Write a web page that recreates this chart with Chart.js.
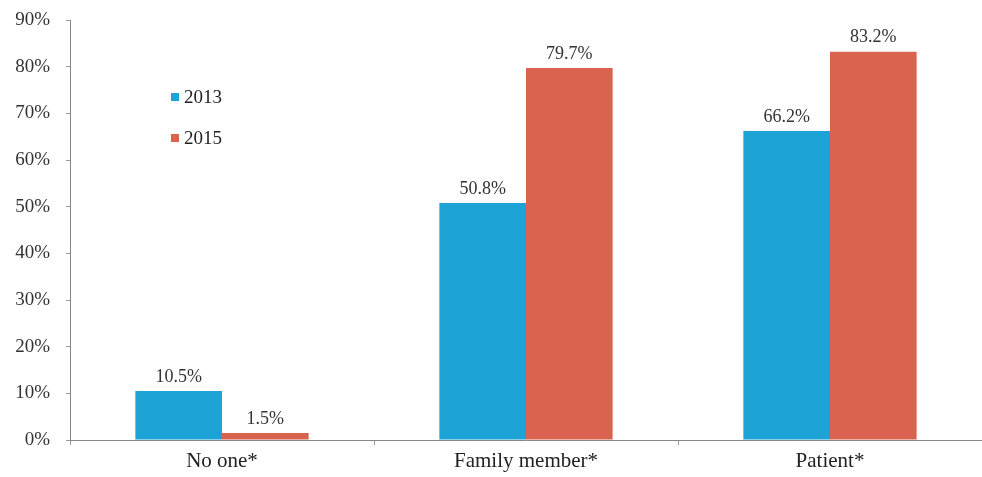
<!DOCTYPE html>
<html>
<head>
<meta charset="utf-8">
<script src="https://cdn.jsdelivr.net/npm/chart.js@4/dist/chart.umd.min.js"></script>
<style>
  html, body { margin: 0; padding: 0; background: #fff; overflow: hidden; }
  #wrap { width: 982px; height: 477px; }
</style>
</head>
<body>
<div id="wrap"><canvas id="barChart" width="982" height="477"></canvas></div>
<script>
const categories = ['No one*', 'Family member*', 'Patient*'];
const years = ['2013', '2015'];
const values2013 = [10.5, 50.8, 66.2];
const values2015 = [1.5, 79.7, 83.2];
const yTicks = [0, 10, 20, 30, 40, 50, 60, 70, 80, 90];

const blue = '#1ea3d6';
const red = '#da6350';
const serif = "'Liberation Serif', 'Times New Roman', serif";

// value labels over each bar
const barLabels = {
  id: 'barLabels',
  afterDatasetsDraw(chart) {
    const ctx = chart.ctx;
    ctx.save();
    ctx.font = '18px ' + serif;
    ctx.fillStyle = '#333';
    ctx.textAlign = 'center';
    ctx.textBaseline = 'bottom';
    chart.data.datasets.forEach((ds, i) => {
      chart.getDatasetMeta(i).data.forEach((bar, j) => {
        ctx.fillText(ds.data[j].toFixed(1) + '%', bar.x, bar.y - 5);
      });
    });
    ctx.restore();
  }
};

// legend inside the plot, top left
const insideLegend = {
  id: 'insideLegend',
  afterDraw(chart) {
    const ctx = chart.ctx;
    ctx.save();
    ctx.font = '19px ' + serif;
    ctx.textBaseline = 'middle';
    chart.data.datasets.forEach((ds, i) => {
      const y = 97 + i * 41;
      ctx.fillStyle = ds.backgroundColor;
      ctx.fillRect(171, y - 4, 8, 8);
      ctx.fillStyle = '#222';
      ctx.fillText(ds.label, 184, y + 1);
    });
    ctx.restore();
  }
};

new Chart(document.getElementById('barChart').getContext('2d'), {
  type: 'bar',
  data: {
    labels: categories,
    datasets: [
      { label: years[0], data: values2013, backgroundColor: blue },
      { label: years[1], data: values2015, backgroundColor: red }
    ]
  },
  options: {
    responsive: false,
    animation: false,
    layout: { padding: { top: 20, right: 0, left: 0, bottom: 0 } },
    datasets: { bar: { categoryPercentage: 0.57, barPercentage: 1.0 } },
    plugins: {
      legend: { display: false },
      tooltip: { enabled: false }
    },
    scales: {
      x: {
        grid: { display: true, drawOnChartArea: false, offset: true, tickLength: 5, color: '#999' },
        border: { display: true, color: '#888', width: 1 },
        ticks: { color: '#222', font: { family: serif, size: 21 }, padding: 4 },
        afterFit(scale) { scale.height = 37; }
      },
      y: {
        min: 0,
        max: 90,
        afterBuildTicks(scale) { scale.ticks = yTicks.map(v => ({ value: v })); },
        grid: { display: true, drawOnChartArea: false, tickLength: 4, color: '#999' },
        border: { display: true, color: '#888', width: 1 },
        ticks: {
          color: '#333',
          font: { family: serif, size: 19 },
          padding: 16,
          callback: v => v + '%'
        },
        afterFit(scale) {
          scale.width = 70;
          scale.paddingTop = 0;
          scale.paddingBottom = 0;
        }
      }
    }
  },
  plugins: [barLabels, insideLegend]
});
</script>
</body>
</html>
